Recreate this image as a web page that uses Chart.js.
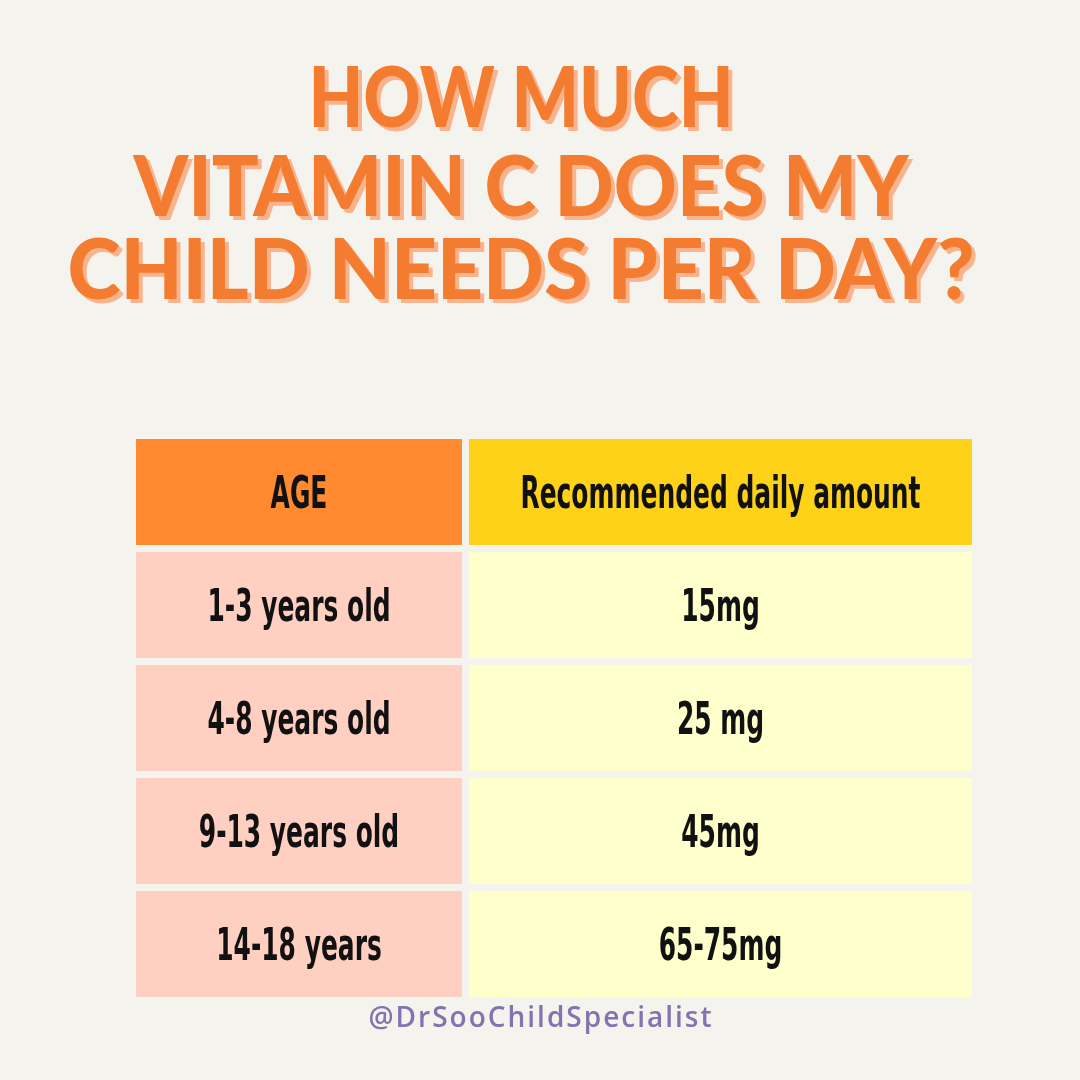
<!DOCTYPE html>
<html>
<head>
<meta charset="utf-8">
<title>Vitamin C per day</title>
<script src="https://cdn.jsdelivr.net/npm/chart.js@4/dist/chart.umd.min.js"></script>
<style>
  html, body { margin: 0; padding: 0; background: #f5f3ee; }
  canvas { display: block; }
</style>
</head>
<body>
<canvas id="table" width="1080" height="1080"></canvas>
<script>
// table contents
const titleLines = ["HOW MUCH", "VITAMIN C DOES MY", "CHILD NEEDS PER DAY?"];
const headers = ["AGE", "Recommended daily amount"];
const ages = ["1-3 years old", "4-8 years old", "9-13 years old", "14-18 years"];
const amounts = ["15mg", "25 mg", "45mg", "65-75mg"];
const credit = "@DrSooChildSpecialist";

// layout: column spans on the x scale (0..836 == table width)
const leftCol = [0, 326];
const rightCol = [333, 836];

const rows = [headers[0]].concat(ages);
const leftText = [headers[0]].concat(ages);
const rightText = [headers[1]].concat(amounts);

const cellFont = "bold 44px 'DejaVu Sans Condensed', 'Liberation Sans Narrow', 'Roboto', sans-serif";

const decor = {
	id: "decor",
	afterDatasetsDraw(chart) {
		const ctx = chart.ctx;
		ctx.save();
		// cell text, squeezed a bit to look like the condensed original
		ctx.font = cellFont;
		ctx.fillStyle = "#111";
		ctx.textAlign = "center";
		ctx.textBaseline = "alphabetic";
		[leftText, rightText].forEach((texts, i) => {
			chart.getDatasetMeta(i).data.forEach((bar, j) => {
				ctx.save();
				ctx.translate((bar.x + bar.base) / 2, bar.y + 16);
				ctx.scale(0.63, 1);
				ctx.fillText(texts[j], 0, 0);
				ctx.restore();
			});
		});

		// title with soft shadow
		ctx.textBaseline = "middle";
		ctx.font = "900 84px 'Lato', 'DejaVu Sans', sans-serif";
		const ys = [100, 189, 272];
		const widths = [425, 775, 907];
		titleLines.forEach((line, i) => {
			ctx.fillStyle = "#f8b48e";
			ctx.fillText(line, 525, ys[i] + 4, widths[i]);
			ctx.fillStyle = "#f47c30";
			ctx.fillText(line, 521, ys[i], widths[i]);
		});

		// credit line
		ctx.font = "600 28px 'Open Sans', sans-serif";
		ctx.letterSpacing = "2px";
		ctx.fillStyle = "#8174b0";
		ctx.fillText(credit, 541, 1019);
		ctx.restore();
	}
};

new Chart(document.getElementById("table"), {
	type: "bar",
	data: {
		labels: rows,
		datasets: [
			{
				data: rows.map(() => leftCol),
				backgroundColor: rows.map((r, i) => i === 0 ? "#ff8a2f" : "#ffd0c2"),
				grouped: false,
				barPercentage: 0.938,
				categoryPercentage: 1,
			},
			{
				data: rows.map(() => rightCol),
				backgroundColor: rows.map((r, i) => i === 0 ? "#ffd21a" : "#ffffcc"),
				grouped: false,
				barPercentage: 0.938,
				categoryPercentage: 1,
			},
		],
	},
	options: {
		indexAxis: "y",
		responsive: false,
		animation: false,
		layout: { padding: { left: 136, right: 108, top: 435.5, bottom: 79.5 } },
		scales: {
			x: { display: false, min: 0, max: 836 },
			y: { display: false },
		},
		plugins: {
			legend: { display: false },
			tooltip: { enabled: false },
		},
	},
	plugins: [decor],
});
</script>
</body>
</html>
